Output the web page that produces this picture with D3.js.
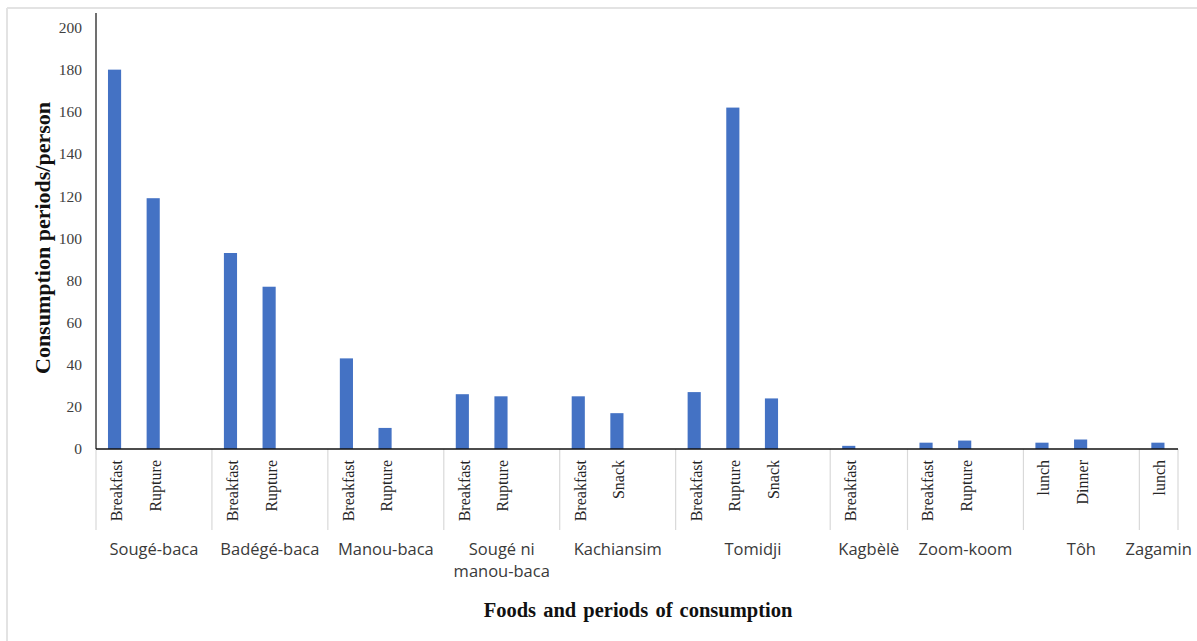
<!DOCTYPE html>
<html>
<head>
<meta charset="utf-8">
<script src="https://cdn.jsdelivr.net/npm/d3@7"></script>
<style>
  body { margin: 0; background: #fff; }
</style>
</head>
<body>
<svg id="chart" width="1197" height="641"></svg>
<script>
// data
const foods = ["Sougé-baca", "Badégé-baca", "Manou-baca", "Sougé ni manou-baca", "Kachiansim",
               "Tomidji", "Kagbèlè", "Zoom-koom", "Tôh", "Zagamin"]
const periods = [["Breakfast", "Rupture"], ["Breakfast", "Rupture"], ["Breakfast", "Rupture"],
                 ["Breakfast", "Rupture"], ["Breakfast", "Snack"], ["Breakfast", "Rupture", "Snack"],
                 ["Breakfast"], ["Breakfast", "Rupture"], ["lunch", "Dinner"], ["lunch"]]
const values = [[180, 119], [93, 77], [43, 10], [26, 25], [25, 17], [27, 162, 24],
                [1.5], [3, 4], [3, 4.5], [3]]
const yTicks = [0, 20, 40, 60, 80, 100, 120, 140, 160, 180, 200]

let svg = d3.select("#chart")
const plotLeft = 96, plotRight = 1178, plotBase = 449, plotTop = 13

// one slot per food/period, plus an empty slot after each food (not the last)
let leaves = []
let groups = []
foods.forEach((f, gi) => {
    let start = leaves.length
    periods[gi].forEach((p, pi) => {
        leaves.push({food: f, period: p, value: values[gi][pi]})
    })
    if (gi < foods.length - 1) leaves.push({food: f, period: "", value: null})
    groups.push({food: f, start: start, end: leaves.length})
})

let x = d3.scaleBand()
    .domain(leaves.map((d, i) => i))
    .range([plotLeft, plotRight])
    .padding(0)
let y = d3.scaleLinear()
    .domain([0, 200])
    .range([plotBase, 27.5])

// light frame of the picture
svg.append("line")
    .attr("x1", 7).attr("x2", 1197).attr("y1", 8).attr("y2", 8)
    .attr("stroke", "#e3e3e3").attr("stroke-width", 2)
svg.append("line")
    .attr("x1", 7).attr("x2", 7).attr("y1", 8).attr("y2", 641)
    .attr("stroke", "#e3e3e3").attr("stroke-width", 2)

// y axis labels
let yAxis = svg.append("g")
    .attr("transform", "translate(" + plotLeft + ",0)")
    .call(d3.axisLeft(y).tickValues(yTicks).tickSize(0).tickPadding(14))
yAxis.select(".domain").remove()
yAxis.selectAll("text")
    .style("font-family", "'Liberation Serif', 'Times New Roman', serif")
    .style("font-size", "15.5px")
    .attr("fill", "#404040")

// bars
let bw = x.bandwidth()
svg.append("g")
    .selectAll("rect")
    .data(leaves.map((d, i) => ({...d, i: i})).filter(d => d.value != null))
    .enter().append("rect")
    .attr("x", d => x(d.i) + bw * 0.31)
    .attr("width", bw * 0.34)
    .attr("y", d => y(d.value))
    .attr("height", d => plotBase - y(d.value))
    .attr("fill", "#4472C4")

// group separators under the axis
let bounds = groups.map(g => x(g.start)).concat([plotRight])
svg.append("g")
    .selectAll("line")
    .data(bounds)
    .enter().append("line")
    .attr("x1", d => d).attr("x2", d => d)
    .attr("y1", plotBase).attr("y2", 530)
    .attr("stroke", "#d9d9d9")
    .attr("stroke-width", 1.2)

// axis lines
svg.append("line")
    .attr("x1", plotLeft).attr("x2", plotLeft).attr("y1", plotBase).attr("y2", plotTop)
    .attr("stroke", "#404040").attr("stroke-width", 1.5)
svg.append("line")
    .attr("x1", plotLeft).attr("x2", plotRight).attr("y1", plotBase).attr("y2", plotBase)
    .attr("stroke", "#111").attr("stroke-width", 1.5)

// period labels (rotated)
svg.append("g")
    .selectAll("text")
    .data(leaves.map((d, i) => ({...d, i: i})).filter(d => d.period != ""))
    .enter().append("text")
    .attr("transform", d => "translate(" + (x(d.i) + bw / 2 + 1) + ",460) rotate(-90)")
    .attr("text-anchor", "end")
    .attr("dy", "0.35em")
    .style("font-family", "'Liberation Serif', 'Times New Roman', serif")
    .style("font-size", "16px")
    .attr("fill", "#262626")
    .text(d => d.period)

// food labels
let foodText = svg.append("g")
    .selectAll("text")
    .data(groups)
    .enter().append("text")
    .attr("x", g => (x(g.start) + (g.end < leaves.length ? x(g.end) : plotRight)) / 2)
    .attr("y", 555)
    .attr("text-anchor", "middle")
    .style("font-family", "'Open Sans', 'Noto Sans', sans-serif")
    .style("font-size", "16.5px")
    .attr("fill", "#3a3a3a")
foodText.each(function(g) {
    let words = g.food == "Sougé ni manou-baca" ? ["Sougé ni", "manou-baca"] : [g.food]
    let t = d3.select(this)
    words.forEach((w, k) => {
        t.append("tspan")
            .attr("x", t.attr("x"))
            .attr("dy", k == 0 ? 0 : 22)
            .text(w)
    })
})

// axis titles
svg.append("text")
    .attr("x", 638).attr("y", 617)
    .attr("text-anchor", "middle")
    .style("font-family", "'Liberation Serif', 'Times New Roman', serif")
    .style("font-size", "20.5px")
    .style("font-weight", "bold")
    .style("word-spacing", "2px")
    .attr("fill", "#111")
    .text("Foods and periods of consumption")
svg.append("text")
    .attr("transform", "translate(50,238) rotate(-90)")
    .attr("text-anchor", "middle")
    .style("font-family", "'Liberation Serif', 'Times New Roman', serif")
    .style("font-size", "22px")
    .style("font-weight", "bold")
    .attr("fill", "#111")
    .text("Consumption  periods/person")
</script>
</body>
</html>
